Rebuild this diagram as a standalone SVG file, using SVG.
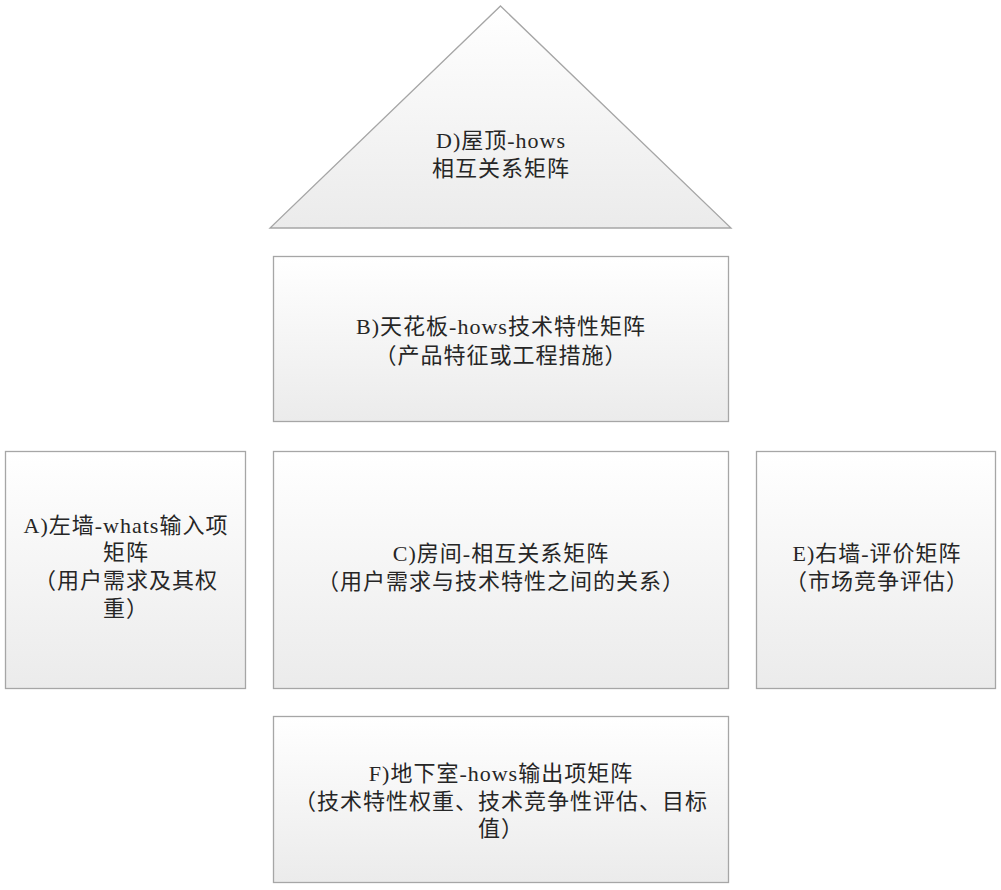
<svg xmlns="http://www.w3.org/2000/svg" width="1001" height="890" viewBox="0 0 1001 890">
<defs>
<linearGradient id="g" x1="0" y1="0" x2="0" y2="1">
<stop offset="0" stop-color="#ffffff"/>
<stop offset="1" stop-color="#ebebeb"/>
</linearGradient>
<style>
.s{fill:url(#g);stroke:#a6a6a6;stroke-width:1.3}
.t{font-family:"Liberation Serif","Noto Sans CJK SC",serif;font-size:22px;letter-spacing:1px;fill:#262626;text-anchor:middle}
</style>
</defs>
<rect width="1001" height="890" fill="#ffffff"/>
<g id="connectors"></g>
<g id="D">
<polygon class="s" points="500.5,6 731,228 270,228"/>
<text class="t" x="501" y="148">D)屋顶-hows</text>
<text class="t" x="501" y="176">相互关系矩阵</text>
</g>
<g id="B">
<rect class="s" x="273.5" y="256.5" width="455" height="165"/>
<text class="t" x="501" y="334">B)天花板-hows技术特性矩阵</text>
<text class="t" x="501" y="363">（产品特征或工程措施）</text>
</g>
<g id="A">
<rect class="s" x="5.5" y="451.5" width="240" height="237"/>
<text class="t" x="126" y="533">A)左墙-whats输入项</text>
<text class="t" x="126" y="560">矩阵</text>
<text class="t" x="126" y="588">（用户需求及其权</text>
<text class="t" x="126" y="616">重）</text>
</g>
<g id="C">
<rect class="s" x="273.5" y="451.5" width="455" height="237"/>
<text class="t" x="501" y="561">C)房间-相互关系矩阵</text>
<text class="t" x="501" y="589">（用户需求与技术特性之间的关系）</text>
</g>
<g id="E">
<rect class="s" x="756.5" y="451.5" width="239" height="237"/>
<text class="t" x="877" y="561">E)右墙-评价矩阵</text>
<text class="t" x="877" y="589">（市场竞争评估）</text>
</g>
<g id="F">
<rect class="s" x="273.5" y="716.5" width="455" height="166"/>
<text class="t" x="501" y="781">F)地下室-hows输出项矩阵</text>
<text class="t" x="501" y="809">（技术特性权重、技术竞争性评估、目标</text>
<text class="t" x="501" y="836">值）</text>
</g>
</svg>
